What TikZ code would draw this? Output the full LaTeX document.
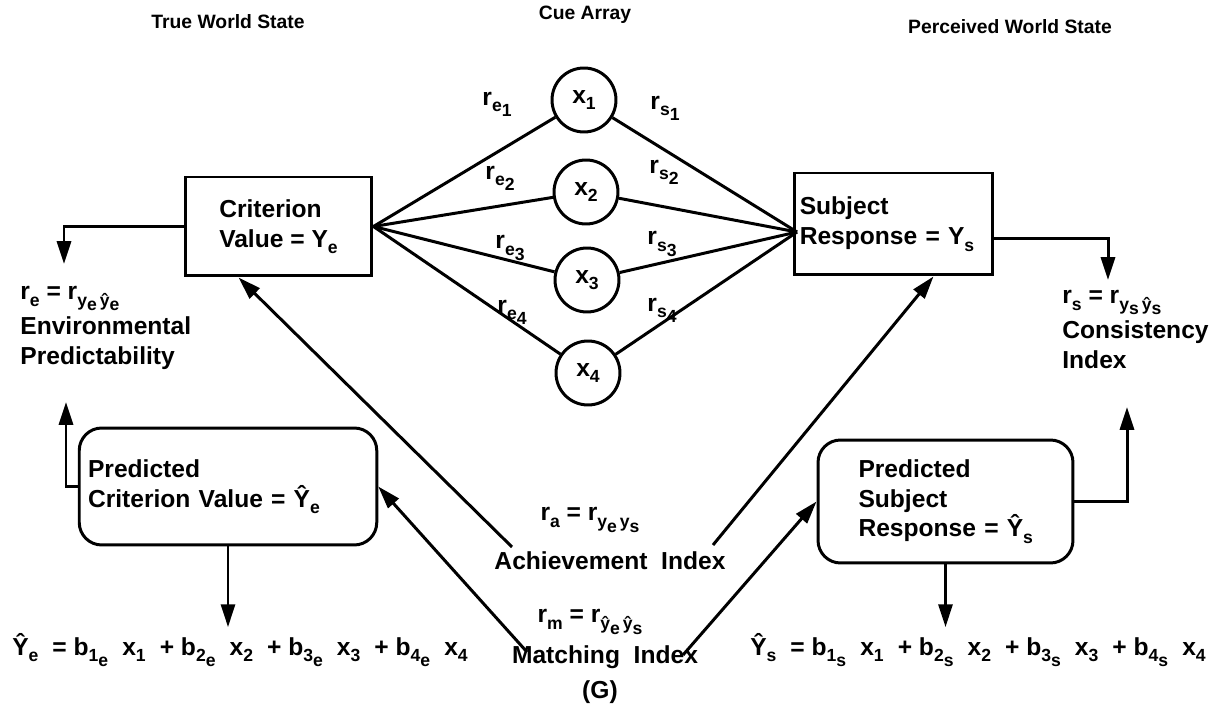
\documentclass[tikz,border=0pt]{standalone}
\usepackage{fontspec}
\setmainfont{Liberation Sans}
\usetikzlibrary{positioning,arrows.meta}

\newcommand{\lo}[1]{\raisebox{-0.5ex}{\fontsize{10}{10}\selectfont #1}}
\newcommand{\gap}{\hspace{8pt}}

\tikzset{
  every node/.style={font=\bfseries\fontsize{14}{17}\selectfont},
  link/.style={line width=1.7pt},
  arr/.style={line width=1.7pt,-{Triangle[length=13pt,width=8pt]}},
  plainbox/.style={draw,line width=1.7pt,align=left,inner sep=3pt},
  predbox/.style={draw,line width=1.7pt,rounded corners=0.45cm,align=left,inner sep=5pt},
  cue/.style={circle,draw,line width=1.7pt,minimum size=1.28cm,inner sep=0pt},
  title/.style={font=\bfseries\fontsize{11}{13}\selectfont}
}

\begin{document}
\begin{tikzpicture}[x=0.02cm,y=-0.02cm]
        \useasboundingbox (0,0) rectangle (1225,722);
        % Titles
        \node[title] (ttrue) at (228,22) {True World State};
        \node[title] (tcue) at (585,15) {Cue Array};
        \node[title] (tperc) at (1010,27) {Perceived World State};
        % Boxes
        \node[plainbox, minimum width=3.74cm, minimum height=1.98cm] (crit) at (278.5,226.5) {Criterion\\Value = Y\lo{e}};
        \node[plainbox, minimum width=3.86cm, minimum height=2.04cm, text width=3.75cm] (subj) at (893.5,224) {Subject\\Response = Y\lo{s}\\[-6pt]};
        \node[predbox, minimum width=5.8cm, minimum height=2.34cm, text width=5.6cm] (lpred) at (228,486.5) {Predicted\\Criterion Value = Ŷ\lo{e}\\[8pt]};
        \node[predbox, minimum width=5.1cm, minimum height=2.46cm, text width=4.2cm] (rpred) at (945.5,501.5) {\hspace*{0.36cm}Predicted\\\hspace*{0.36cm}Subject\\\hspace*{0.36cm}Response = Ŷ\lo{s}};
        % Cues
        \node[cue] (cue1) at (584,100) {x\lo{1}};
        \node[cue] (cue2) at (586,192) {x\lo{2}};
        \node[cue] (cue3) at (587,280) {x\lo{3}};
        \node[cue] (cue4) at (588,373) {x\lo{4}};
        \coordinate (sin) at (797,232);
        % Cue labels
        \node (re1) at (497,104) {r\lo{e\lo{1}}};
        \node (re2) at (500,178) {r\lo{e\lo{2}}};
        \node (re3) at (510,248) {r\lo{e\lo{3}}};
        \node (re4) at (512,312) {r\lo{e\lo{4}}};
        \node (rs1) at (665,108) {r\lo{s\lo{1}}};
        \node (rs2) at (664,172) {r\lo{s\lo{2}}};
        \node (rs3) at (662,244) {r\lo{s\lo{3}}};
        \node (rs4) at (662,310) {r\lo{s\lo{4}}};
        % Indices
        \node[align=left, anchor=north west, inner sep=0pt] (envidx) at (20,286) {r\lo{e} = r\lo{y\lo{e}\,ŷ\lo{e}}\\[3pt]Environmental\\Predictability};
        \node[align=left, anchor=north west, inner sep=0pt] (considx) at (1062,290) {r\lo{s} = r\lo{y\lo{s}\,ŷ\lo{s}}\\[3pt]Consistency\\Index};
        \node (aform) at (590,520) {r\lo{a} = r\lo{y\lo{e}\,y\lo{s}}};
        \node (achidx) at (610,561) {Achievement\ \ Index};
        \node (mform) at (590,622) {r\lo{m} = r\lo{ŷ\lo{e}\,ŷ\lo{s}}};
        \node (matchidx) at (605,657) {Matching\ \ Index};
        \node (glabel) at (600,692) {(G)};
        % Equations
        \node (eqe) at (240,650) {Ŷ\lo{e}\gap= b\lo{1\lo{e}}\gap x\lo{1}\gap+ b\lo{2\lo{e}}\gap x\lo{2}\gap+ b\lo{3\lo{e}}\gap x\lo{3}\gap+ b\lo{4\lo{e}}\gap x\lo{4}};
        \node (eqs) at (978,650) {Ŷ\lo{s}\gap= b\lo{1\lo{s}}\gap x\lo{1}\gap+ b\lo{2\lo{s}}\gap x\lo{2}\gap+ b\lo{3\lo{s}}\gap x\lo{3}\gap+ b\lo{4\lo{s}}\gap x\lo{4}};
        % Free ends
        \coordinate (eDown) at (64,264);
        \coordinate (eUp) at (66,402);
        \coordinate (sDown) at (1108,280);
        \coordinate (sUp) at (1127,407);
        \coordinate (aL) at (512,547);
        \coordinate (aR) at (713,545);
        \coordinate (mL) at (527,652);
        \coordinate (mR) at (683,655);

        % Edges
        \foreach \i in {1,2,3,4} {
            \draw[link] (crit.east) -- (cue\i);
            \draw[link] (cue\i) -- (sin);
        }
        \draw[arr] (crit.west) -| (eDown);
        \draw[arr] (lpred.west) -| (eUp);
        \draw[arr] ([yshift=-0.3cm]subj.east) -| (sDown);
        \draw[arr] (rpred.east) -| (sUp);
        \draw[arr] (aL) -- ([xshift=-0.8cm]crit.south);
        \draw[arr] (aR) -- ([xshift=0.8cm]subj.south);
        \draw[arr] (mL) -- (lpred.east);
        \draw[arr] (mR) -- (rpred.west);
        \draw[arr] (lpred.south) -- (lpred.south |- eqe.north);
        \draw[arr] (rpred.south) -- (rpred.south |- eqs.north);
\end{tikzpicture}
\end{document}
